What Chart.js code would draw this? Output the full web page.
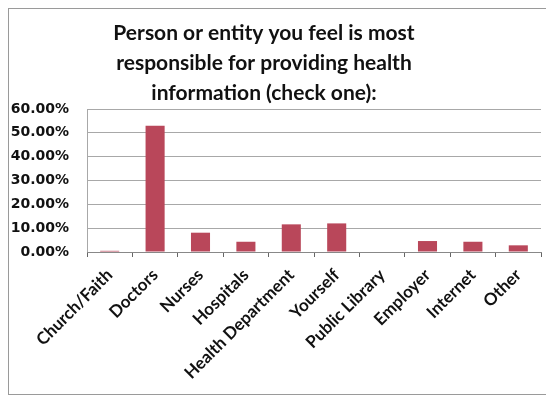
<!DOCTYPE html>
<html>
<head>
<meta charset="utf-8">
<script src="https://cdn.jsdelivr.net/npm/chart.js@4/dist/chart.umd.min.js"></script>
<style>
  html, body { margin: 0; padding: 0; background: #fff; }
  #wrap { width: 546px; height: 399px; position: relative; }
</style>
</head>
<body>
<div id="wrap"><canvas id="c" width="546" height="399"></canvas></div>
<script>
const categories = ["Church/Faith", "Doctors", "Nurses", "Hospitals", "Health Department",
                    "Yourself", "Public Library", "Employer", "Internet", "Other"];
const shares = [0.5, 53.0, 8.1, 4.3, 11.6, 12.0, 0, 4.6, 4.3, 2.8];
const titleLines = ["Person or entity you feel is most",
                    "responsible for providing health",
                    "information (check one):"];

const FONT = "Lato, 'Open Sans', sans-serif";
const TICK_FONT = "'DejaVu Sans', Verdana, sans-serif";

// Frame around the chart and the three-line heading
const framePlugin = {
  id: 'frame',
  beforeDraw(chart) {
    const ctx = chart.ctx;
    ctx.save();
    ctx.fillStyle = '#fff';
    ctx.fillRect(0, 0, chart.width, chart.height);
    ctx.strokeStyle = '#9a9a9a';
    ctx.lineWidth = 1;
    ctx.strokeRect(8.5, 8.5, 560, 386);
    ctx.restore();
  },
  afterDraw(chart) {
    const ctx = chart.ctx;
    ctx.save();
    ctx.fillStyle = '#111';
    ctx.font = "bold 21px " + FONT;
    ctx.textAlign = 'center';
    ctx.textBaseline = 'middle';
    titleLines.forEach((t, i) => ctx.fillText(t, 264, 33 + i * 30));
    ctx.restore();
  }
};

new Chart(document.getElementById('c'), {
  type: 'bar',
  data: {
    labels: categories,
    datasets: [{
      data: shares,
      backgroundColor: '#b9475a',
      borderWidth: 0,
      categoryPercentage: 1.0,
      barPercentage: 0.42
    }]
  },
  options: {
    responsive: false,
    animation: false,
    layout: { padding: { left: 8, top: 109, right: 5, bottom: 0 } },
    plugins: { legend: { display: false }, tooltip: { enabled: false }, title: { display: false } },
    scales: {
      y: {
        min: 0, max: 60,
        afterFit(scale) { scale.width = 79; },
        ticks: {
          stepSize: 10,
          padding: 18,
          color: '#111',
          font: { family: TICK_FONT, size: 14, weight: 'bold' },
          callback: v => v.toFixed(2) + '%'
        },
        grid: { color: '#a8a8a8', drawTicks: false },
        border: { display: true, color: '#a8a8a8' }
      },
      x: {
        afterFit(scale) { scale.height = 147; },
        ticks: {
          minRotation: 45, maxRotation: 45,
          padding: 8,
          color: '#111',
          font: { family: FONT, size: 17, weight: 'bold' }
        },
        grid: { drawOnChartArea: false, drawTicks: true, tickLength: 5, color: '#666', offset: true },
        border: { display: true, color: '#888' }
      }
    }
  },
  plugins: [framePlugin]
});
</script>
</body>
</html>
